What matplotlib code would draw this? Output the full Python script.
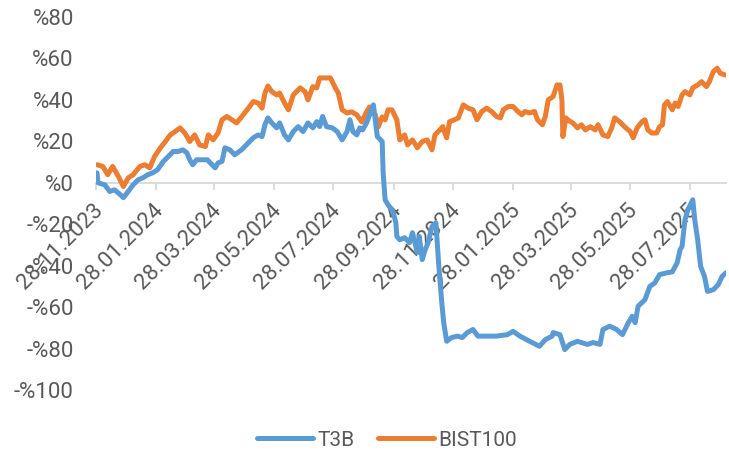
import matplotlib
matplotlib.use("Agg")
import matplotlib.pyplot as plt
import matplotlib.dates as mdates
import matplotlib.transforms as mtransforms
from matplotlib.ticker import FuncFormatter, MultipleLocator
import pandas as pd

plt.rcParams['font.family'] = ['Roboto', 'DejaVu Sans']

# ---- data (cumulative return, %) ----
bist_dates = [
    "2023-11-29", "2023-12-05", "2023-12-10", "2023-12-15", "2023-12-21", "2023-12-26", "2023-12-31",
    "2024-01-05", "2024-01-12", "2024-01-17", "2024-01-22", "2024-01-27", "2024-02-02", "2024-02-07",
    "2024-02-12", "2024-02-17", "2024-02-22", "2024-02-27", "2024-03-03", "2024-03-08", "2024-03-13",
    "2024-03-19", "2024-03-22", "2024-03-27", "2024-04-01", "2024-04-05", "2024-04-10", "2024-04-15",
    "2024-04-20", "2024-04-24", "2024-05-02", "2024-05-07", "2024-05-12", "2024-05-16", "2024-05-19",
    "2024-05-22", "2024-05-26", "2024-05-31", "2024-06-03", "2024-06-08", "2024-06-12", "2024-06-17",
    "2024-06-24", "2024-06-29", "2024-07-02", "2024-07-07", "2024-07-11", "2024-07-14", "2024-07-19",
    "2024-07-25", "2024-07-30", "2024-08-02", "2024-08-06", "2024-08-11", "2024-08-16", "2024-08-21",
    "2024-08-26", "2024-08-31", "2024-09-03", "2024-09-09", "2024-09-12", "2024-09-16", "2024-09-19",
    "2024-09-22", "2024-09-26", "2024-10-01", "2024-10-04", "2024-10-09", "2024-10-12", "2024-10-17",
    "2024-10-22", "2024-10-27", "2024-11-01", "2024-11-06", "2024-11-09", "2024-11-14", "2024-11-17",
    "2024-11-21", "2024-11-24", "2024-11-29", "2024-12-03", "2024-12-08", "2024-12-13", "2024-12-18",
    "2024-12-22", "2024-12-27", "2025-01-01", "2025-01-06", "2025-01-11", "2025-01-15", "2025-01-18",
    "2025-01-23", "2025-01-28", "2025-02-02", "2025-02-06", "2025-02-09", "2025-02-14", "2025-02-19",
    "2025-02-22", "2025-02-27", "2025-03-02", "2025-03-05", "2025-03-10", "2025-03-14", "2025-03-17",
    "2025-03-19", "2025-03-20", "2025-03-23", "2025-03-25", "2025-03-30", "2025-04-04", "2025-04-08",
    "2025-04-12", "2025-04-17", "2025-04-22", "2025-04-25", "2025-04-30", "2025-05-05", "2025-05-09",
    "2025-05-12", "2025-05-17", "2025-05-22", "2025-05-28", "2025-05-31", "2025-06-04", "2025-06-09",
    "2025-06-12", "2025-06-15", "2025-06-19", "2025-06-24", "2025-06-27", "2025-06-30", "2025-07-02",
    "2025-07-05", "2025-07-10", "2025-07-13", "2025-07-16", "2025-07-20", "2025-07-23", "2025-07-28",
    "2025-07-31", "2025-08-05", "2025-08-09", "2025-08-14", "2025-08-17", "2025-08-21", "2025-08-25",
    "2025-08-28", "2025-09-02",
]
bist_values = [
    8.7, 7.9, 3.9, 7.9, 3.0, -1.8, 2.4,
    3.9, 7.9, 8.7, 7.2, 12.7, 16.9, 19.9,
    23.1, 24.7, 26.5, 24.0, 19.9, 23.1, 18.3,
    17.5, 23.1, 20.7, 24.1, 30.4, 32.0, 30.4,
    28.9, 31.2, 36.0, 39.2, 38.5, 36.0, 43.3,
    46.7, 44.0, 42.4, 43.3, 38.5, 35.2, 42.4,
    45.8, 44.0, 40.0, 46.4, 45.8, 50.6, 50.6,
    50.6, 45.8, 43.4, 35.2, 33.7, 34.2, 32.8,
    29.4, 34.2, 36.6, 32.8, 27.0, 31.8, 30.4,
    35.2, 35.2, 30.4, 20.7, 23.1, 18.3, 20.7,
    16.9, 19.9, 20.7, 15.9, 23.1, 25.5, 27.1,
    21.7, 29.5, 30.4, 31.3, 37.6, 36.0, 35.2,
    30.4, 34.4, 36.0, 34.4, 32.0, 31.3, 35.2,
    36.8, 36.8, 34.4, 32.8, 34.4, 33.7, 34.4,
    30.4, 28.0, 32.0, 40.0, 41.6, 47.2, 47.2,
    40.0, 22.3, 31.3, 30.4, 28.9, 26.5, 28.0,
    25.5, 27.1, 25.5, 28.0, 23.1, 22.3, 26.5,
    31.3, 29.5, 27.1, 24.7, 21.7, 26.5, 29.5,
    30.4, 25.5, 24.0, 24.0, 27.1, 28.0, 37.6,
    39.2, 35.2, 38.5, 36.8, 42.4, 44.0, 42.4,
    45.8, 47.2, 48.8, 46.4, 48.8, 53.6, 55.3,
    52.9, 52.0,
]

t3b_dates = [
    "2023-11-29", "2023-11-30", "2023-12-07", "2023-12-12", "2023-12-17", "2023-12-23", "2023-12-26",
    "2023-12-31", "2024-01-05", "2024-01-10", "2024-01-15", "2024-01-20", "2024-01-25", "2024-01-30",
    "2024-02-05", "2024-02-10", "2024-02-15", "2024-02-20", "2024-02-25", "2024-02-29", "2024-03-03",
    "2024-03-06", "2024-03-10", "2024-03-16", "2024-03-21", "2024-03-24", "2024-03-29", "2024-04-01",
    "2024-04-05", "2024-04-08", "2024-04-13", "2024-04-18", "2024-04-25", "2024-05-02", "2024-05-07",
    "2024-05-12", "2024-05-16", "2024-05-19", "2024-05-22", "2024-05-26", "2024-05-31", "2024-06-03",
    "2024-06-08", "2024-06-12", "2024-06-17", "2024-06-22", "2024-06-27", "2024-07-02", "2024-07-07",
    "2024-07-11", "2024-07-14", "2024-07-17", "2024-07-21", "2024-07-27", "2024-08-01", "2024-08-06",
    "2024-08-11", "2024-08-14", "2024-08-17", "2024-08-21", "2024-08-24", "2024-08-27", "2024-08-31",
    "2024-09-07", "2024-09-11", "2024-09-16", "2024-09-17", "2024-09-19", "2024-09-22", "2024-09-27",
    "2024-09-30", "2024-10-01", "2024-10-04", "2024-10-09", "2024-10-14", "2024-10-17", "2024-10-22",
    "2024-10-24", "2024-10-27", "2024-10-30", "2024-11-02", "2024-11-06", "2024-11-10", "2024-11-13",
    "2024-11-16", "2024-11-18", "2024-11-21", "2024-11-26", "2024-12-02", "2024-12-07", "2024-12-12",
    "2024-12-18", "2024-12-23", "2025-01-01", "2025-01-11", "2025-01-22", "2025-01-28", "2025-02-04",
    "2025-02-14", "2025-02-24", "2025-03-02", "2025-03-09", "2025-03-10", "2025-03-17", "2025-03-22",
    "2025-03-27", "2025-04-04", "2025-04-14", "2025-04-20", "2025-04-27", "2025-04-30", "2025-05-07",
    "2025-05-14", "2025-05-20", "2025-05-26", "2025-05-30", "2025-06-02", "2025-06-05", "2025-06-12",
    "2025-06-17", "2025-06-22", "2025-06-27", "2025-07-04", "2025-07-10", "2025-07-15", "2025-07-18",
    "2025-07-20", "2025-07-23", "2025-07-26", "2025-07-31", "2025-08-02", "2025-08-05", "2025-08-08",
    "2025-08-12", "2025-08-15", "2025-08-21", "2025-08-26", "2025-08-30", "2025-09-03",
]
t3b_values = [
    4.8, 0.0, -1.0, -4.2, -3.4, -5.8, -7.2,
    -4.2, -1.0, 1.4, 2.4, 3.9, 4.8, 6.3,
    10.3, 12.7, 15.1, 15.1, 15.9, 14.5, 11.1,
    8.7, 11.1, 11.1, 11.1, 9.6, 7.2, 9.6,
    10.3, 16.9, 15.9, 13.5, 15.9, 19.3, 21.7,
    23.1, 22.3, 28.0, 31.3, 28.9, 26.5, 28.9,
    23.1, 20.7, 24.7, 27.1, 24.7, 28.9, 26.5,
    29.5, 27.1, 32.0, 27.1, 26.5, 24.7, 20.7,
    24.7, 30.4, 24.7, 23.1, 26.5, 25.5, 28.9,
    37.6, 22.3, 19.9, 4.8, -8.2, -10.6, -13.8,
    -19.3, -25.9, -27.5, -26.5, -28.9, -24.1, -33.7,
    -25.9, -37.1, -32.3, -28.9, -21.1, -19.3, -40.3,
    -57.8, -67.5, -76.5, -74.7, -74.0, -74.7, -72.3,
    -70.8, -74.0, -74.0, -74.0, -73.3, -71.7, -74.0,
    -76.5, -78.9, -75.7, -74.0, -72.3, -73.3, -80.5,
    -78.0, -76.5, -78.0, -77.1, -78.0, -70.8, -69.2,
    -70.8, -73.3, -67.5, -64.4, -67.5, -59.6, -56.4,
    -50.0, -48.4, -44.3, -43.5, -43.0, -38.6, -32.3,
    -30.7, -17.8, -13.0, -8.2, -17.8, -27.5, -40.3,
    -45.2, -52.4, -51.6, -49.2, -45.2, -43.4,
]

tick_dates = ["2023-11-28", "2024-01-28", "2024-03-28", "2024-05-28", "2024-07-28",
              "2024-09-28", "2024-11-28", "2025-01-28", "2025-03-28", "2025-05-28",
              "2025-07-28"]
x_start, x_end = "2023-11-28", "2025-09-03"

series_names = ["T3B", "BIST100"]
colors = ["#5B9BD5", "#ED7D31"]

# ---- figure ----
W, H = 729, 451
fig = plt.figure(figsize=(W / 100, H / 100), dpi=100)
ax = fig.add_axes([96 / W, 1 - 390 / H, (726 - 96) / W, (390 - 17) / H])

ax.plot(pd.to_datetime(t3b_dates), t3b_values, color=colors[0], lw=3.6,
        solid_capstyle='round', solid_joinstyle='round', label=series_names[0], zorder=3)
ax.plot(pd.to_datetime(bist_dates), bist_values, color=colors[1], lw=3.6,
        solid_capstyle='round', solid_joinstyle='round', label=series_names[1], zorder=2)

ax.set_ylim(-100, 80)
ax.set_xlim(pd.Timestamp(x_start), pd.Timestamp(x_end))
ax.yaxis.set_major_locator(MultipleLocator(20))
ax.yaxis.set_major_formatter(FuncFormatter(
    lambda v, p: f"-%{int(round(abs(v)))}" if v < -0.5 else f"%{int(round(v))}"))

text_color = "#595959"
for s in ["top", "right", "left"]:
    ax.spines[s].set_visible(False)
ax.spines["bottom"].set_position(("data", 0))
ax.spines["bottom"].set_color("#D9D9D9")
ax.spines["bottom"].set_linewidth(1.3)
ax.spines["bottom"].set_zorder(1)

ax.set_xticks(pd.to_datetime(tick_dates))
ax.xaxis.set_major_formatter(mdates.DateFormatter("%d.%m.%Y"))
ax.tick_params(axis="x", direction="out", length=5, width=1.3, color="#D9D9D9",
               labelsize=16, labelcolor=text_color, pad=8)
ax.tick_params(axis="y", length=0, labelsize=16, labelcolor=text_color, pad=16)
offset = mtransforms.ScaledTranslation(4 / 100, -6 / 100, fig.dpi_scale_trans)
for lab in ax.get_xticklabels():
    lab.set_rotation(45)
    lab.set_ha("right")
    lab.set_va("center")
    lab.set_rotation_mode("anchor")
    lab.set_transform(lab.get_transform() + offset)

leg = fig.legend(loc="center", bbox_to_anchor=(387 / W, 1 - 440 / H), ncol=2,
                 frameon=False, fontsize=15, handlelength=2.7, columnspacing=1.15,
                 handletextpad=0.18, labelcolor=text_color, borderpad=0.2)
for h in leg.get_lines():
    h.set_linewidth(3.6)
    h.set_solid_capstyle('round')

fig.savefig("out.png", dpi=100)
